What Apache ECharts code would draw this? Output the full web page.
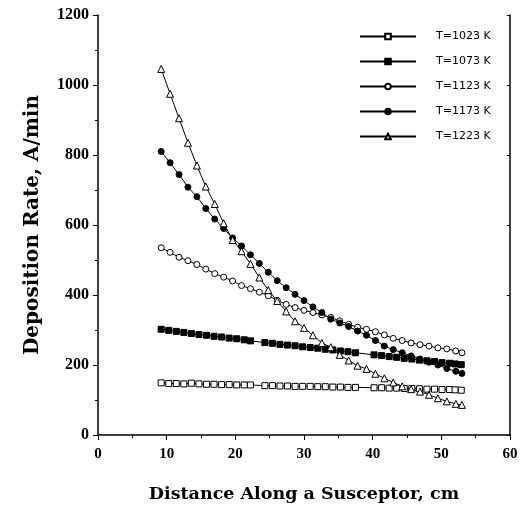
<!DOCTYPE html>
<html>
<head>
<meta charset="utf-8">
<script src="https://cdn.jsdelivr.net/npm/echarts@6/dist/echarts.min.js"></script>
<style>html,body{margin:0;padding:0;background:#fff}#c{width:521px;height:508px}</style>
</head>
<body>
<div id="c"></div>
<script>
// x positions (cm) of the measured points
var xFine = [9.2, 10.3, 11.4, 12.5, 13.6, 14.7, 15.8, 16.9, 18.0, 19.1, 20.2, 21.3, 22.2,
  24.3, 25.4, 26.5, 27.6, 28.7, 29.8, 30.9, 32.0, 33.1, 34.2, 35.3, 36.4, 37.5,
  40.2, 41.3, 42.4, 43.5, 44.6, 45.7, 46.8, 47.9, 49.0, 50.1, 51.2, 52.0, 52.9];
var xCoarse = [9.2, 10.5, 11.8, 13.1, 14.4, 15.7, 17.0, 18.3, 19.6, 20.9, 22.2, 23.5, 24.8,
  26.1, 27.4, 28.7, 30.0, 31.3, 32.6, 33.9, 35.2, 36.5, 37.8, 39.1, 40.4, 41.7, 43.0,
  44.3, 45.6, 46.9, 48.2, 49.5, 50.8, 52.1, 53.0];

// deposition rate (A/min)
var t1023 = [149, 147, 147, 146, 148, 146, 145, 145, 144, 144, 143, 143, 143,
  141, 141, 140, 140, 139, 139, 139, 138, 138, 137, 137, 136, 136,
  135, 135, 134, 134, 133, 133, 132, 131, 131, 130, 130, 129, 128];
var t1073 = [302, 299, 296, 293, 290, 287, 285, 282, 280, 277, 275, 272, 269,
  264, 262, 259, 257, 255, 252, 250, 248, 245, 243, 240, 238, 235,
  229, 227, 224, 222, 219, 217, 214, 212, 210, 207, 205, 203, 201];
var t1123 = [535, 522, 508, 498, 487, 474, 461, 451, 440, 427, 418, 408, 398,
  385, 373, 364, 356, 350, 343, 336, 326, 316, 308, 302, 295, 286, 276,
  270, 263, 258, 254, 249, 246, 240, 235];
var t1173 = [810, 778, 744, 708, 681, 647, 617, 590, 563, 540, 515, 490, 465,
  441, 421, 402, 384, 366, 350, 331, 320, 310, 297, 285, 270, 254, 244,
  235, 226, 217, 208, 200, 190, 182, 176];
var t1223 = [1046, 975, 905, 835, 770, 710, 660, 605, 557, 525, 489, 450, 414,
  383, 353, 325, 306, 285, 263, 251, 229, 213, 198, 189, 175, 162, 150,
  139, 131, 124, 115, 105, 96, 89, 86];

var seriesNames = ['T=1023 K', 'T=1073 K', 'T=1123 K', 'T=1173 K', 'T=1223 K'];
var xTicks = [0, 10, 20, 30, 40, 50, 60];
var yTicks = [0, 200, 400, 600, 800, 1000, 1200];

function pairs(xs, ys) { return ys.map(function (v, i) { return [xs[i], v]; }); }

function mk(name, xs, ys, symbol, fill) {
  return {
    name: name, type: 'line', data: pairs(xs, ys),
    symbol: symbol, symbolSize: symbol === 'triangle' ? 7 : 6,
    showAllSymbol: true,
    lineStyle: { color: '#000', width: 1 },
    itemStyle: { color: fill, borderColor: '#000', borderWidth: 1 },
    emphasis: { disabled: true }, animation: false
  };
}

var chart = echarts.init(document.getElementById('c'), null, { renderer: 'canvas' });
var serif = 'Liberation Serif';
chart.setOption({
  animation: false,
  backgroundColor: '#fff',
  grid: { left: 98, right: 11, top: 15, bottom: 72, show: false },
  legend: {
    orient: 'vertical', left: 354, top: 26, itemWidth: 56, itemHeight: 7, itemGap: 14,
    data: seriesNames,
    textStyle: { fontFamily: 'DejaVu Sans', fontSize: 11, color: '#000', padding: [0, 0, 0, 15] }
  },
  xAxis: {
    type: 'value', min: 0, max: 60, interval: 10,
    name: 'Distance Along a Susceptor, cm', nameLocation: 'middle', nameGap: 50,
    nameTextStyle: { fontFamily: 'DejaVu Serif', fontWeight: 'bold', fontSize: 17.5, color: '#000' },
    axisLine: { lineStyle: { color: '#000', width: 1.5 } },
    axisTick: { lineStyle: { color: '#000' }, length: 5 },
    minorTick: { show: true, splitNumber: 2, length: 3, lineStyle: { color: '#000' } },
    splitLine: { show: false },
    axisLabel: { fontFamily: serif, fontWeight: 'bold', fontSize: 15, color: '#000', margin: 12,
      formatter: function (v) { return xTicks.indexOf(v) >= 0 ? String(v) : ''; } }
  },
  yAxis: [{
    type: 'value', min: 0, max: 1200, interval: 200,
    name: 'Deposition Rate, A/min', nameLocation: 'middle', nameGap: 55,
    nameTextStyle: { fontFamily: 'DejaVu Serif', fontWeight: 'bold', fontSize: 20, color: '#000' },
    axisLine: { show: true, lineStyle: { color: '#000', width: 1.5 } },
    axisTick: { show: true, lineStyle: { color: '#000' }, length: 5 },
    minorTick: { show: true, splitNumber: 2, length: 3, lineStyle: { color: '#000' } },
    splitLine: { show: false },
    axisLabel: { fontFamily: serif, fontWeight: 'bold', fontSize: 16, color: '#000', margin: 9,
      formatter: function (v) { return yTicks.indexOf(v) >= 0 ? String(v) : ''; } }
  }, {
    type: 'value', min: 0, max: 1200, interval: 200, position: 'right',
    axisLine: { show: true, lineStyle: { color: '#000', width: 1.5 } },
    axisTick: { show: true, inside: true, length: 3, lineStyle: { color: '#000' } },
    axisLabel: { show: false }, splitLine: { show: false }
  }],
  series: [
    mk(seriesNames[0], xFine, t1023, 'rect', '#fff'),
    mk(seriesNames[1], xFine, t1073, 'rect', '#000'),
    mk(seriesNames[2], xCoarse, t1123, 'circle', '#fff'),
    mk(seriesNames[3], xCoarse, t1173, 'circle', '#000'),
    mk(seriesNames[4], xCoarse, t1223, 'triangle', '#fff')
  ]
});
</script>
</body>
</html>
